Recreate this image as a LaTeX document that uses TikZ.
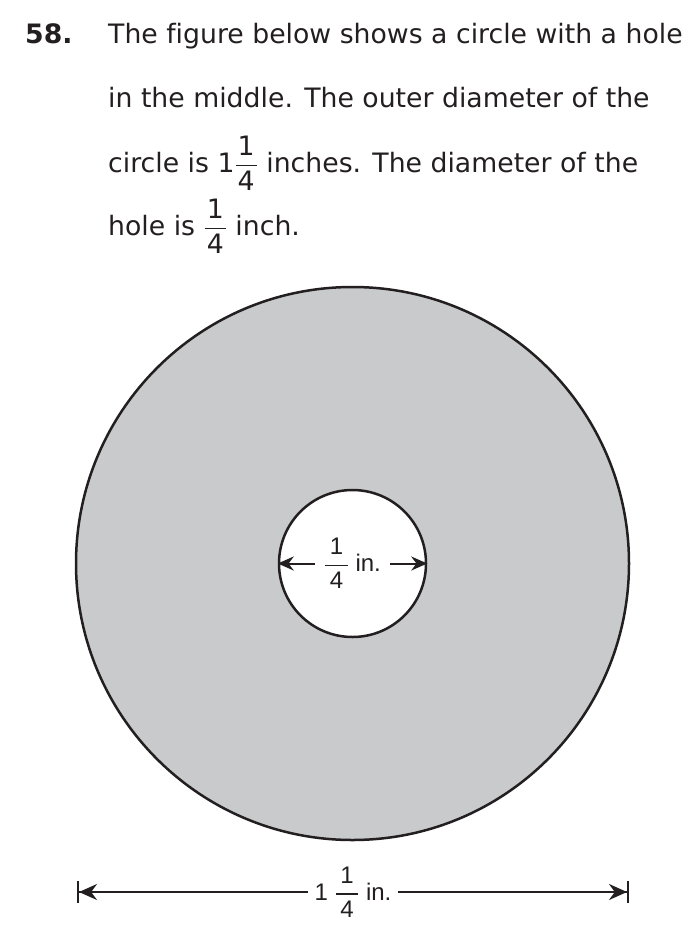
\documentclass[tikz,border=0pt]{standalone}
\usepackage{amsmath}
\usepackage{fontspec}
\setmainfont{DejaVu Sans}[Ligatures=NoCommon]
\newfontfamily\figfont{Liberation Sans}
\usetikzlibrary{arrows.meta,positioning}
\definecolor{Ink}{HTML}{231F20}
\definecolor{Disc}{HTML}{C9CACC}
% stacked fraction with a padded rule
\newcommand{\qfrac}[3][2pt]{$\genfrac{}{}{1.4pt}{0}{\text{\kern#1#2\kern#1}}{\text{\kern#1#3\kern#1}}$}
\tikzset{
  txt/.style={
    anchor=base west, inner sep=0pt, text=Ink,
    font=\fontsize{26.7}{32}\selectfont
  },
  ring/.style={circle, draw=Ink, line width=2.5pt, inner sep=0pt},
  lbl/.style={font=\figfont\fontsize{24}{28}\selectfont, text=Ink, inner ysep=0pt},
  dim/.style={line width=2pt, draw=Ink},
  tip/.style={-{Stealth[length=16pt,width=14pt]}},
  endtip/.style={-{Stealth[length=18pt,width=16pt]Bar[width=22pt]}}
}
\begin{document}
\begin{tikzpicture}[x=1pt,y=-1pt]
  \useasboundingbox (0,0) rectangle (692,948);
  % question text
  \node[txt,font=\fontsize{26.7}{32}\selectfont\bfseries] (num) at (25,43) {58.};
  \node[txt] (t1) at (108,43) {The figure below shows a circle with a hole};
  \node[txt] (t2) at (108,107) {in the middle. The outer diameter of the};
  \node[txt] (t3) at (108,172) {circle is 1\qfrac{1}{4} inches. The diameter of the};
  \node[txt] (t4) at (108,235) {hole is \qfrac{1}{4} inch.};
  % disc with hole
  \node[ring,fill=Disc,minimum size=553pt] (disc) at (352.5,563.5) {};
  \node[ring,fill=white,minimum size=147pt] (hole) at (disc.center) {};
  \node[lbl,inner xsep=9pt] (holelbl) at (hole.center) {\qfrac[4.5pt]{1}{4}\ in.};
  \draw[dim,tip] (holelbl) -- (hole.west);
  \draw[dim,tip] (holelbl) -- (hole.east);
  % outer diameter
  \coordinate (dimL) at (77,892);
  \coordinate (dimR) at (629,892);
  \node[lbl,inner xsep=6pt] (dimlbl) at (353,892) {1\ \qfrac[4.5pt]{1}{4}\ in.};
  \draw[dim,endtip] (dimlbl) -- (dimL);
  \draw[dim,endtip] (dimlbl) -- (dimR);
\end{tikzpicture}
\end{document}
